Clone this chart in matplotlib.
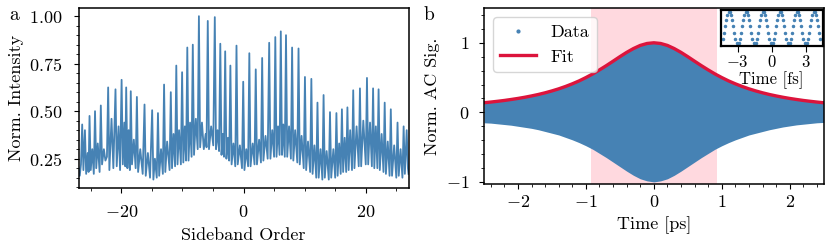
import numpy as np
import matplotlib
matplotlib.use("Agg")
import matplotlib.pyplot as plt
from matplotlib.lines import Line2D
from matplotlib.ticker import AutoMinorLocator, MultipleLocator

plt.rcParams["font.family"] = "serif"
plt.rcParams["font.serif"] = ["cmr10"]
plt.rcParams["mathtext.fontset"] = "cm"
plt.rcParams["axes.formatter.use_mathtext"] = True
plt.rcParams["font.size"] = 13

blue = "steelblue"
red = "crimson"

# panel a: sideband spectrum (tall sideband spikes + background between them)
peak_x = [-26.4, -25.95, -25.2, -24.3, -23.35, -22.15, -20.95, -19.95, -19.2, -18.45,
          -17.45, -16.2, -14.95, -14.0, -13.0, -11.9, -11.0, -10.05, -9.2, -8.3,
          -7.3, -5.85, -4.7, -3.8, -3.0, -2.15, -1.15, -0.05, 0.95, 2.0,
          3.05, 4.2, 5.2, 6.1, 6.95, 7.95, 9.0, 10.05, 11.1, 12.1,
          13.1, 14.15, 15.2, 16.1, 17.0, 17.95, 19.05, 20.2, 21.2, 22.1,
          23.1, 24.1, 25.2, 26.2, 26.7]
peak_y = [0.43, 0.40, 0.475, 0.50, 0.53, 0.625, 0.615, 0.665, 0.625, 0.605,
          0.575, 0.535, 0.505, 0.49, 0.64, 0.60, 0.74, 0.705, 0.835, 0.85,
          1.0, 0.975, 0.995, 0.855, 0.815, 0.74, 0.845, 0.655, 0.805, 0.72,
          0.78, 0.86, 0.89, 0.92, 0.90, 0.835, 0.83, 0.68, 0.67, 0.545,
          0.585, 0.495, 0.49, 0.51, 0.52, 0.61, 0.62, 0.675, 0.62, 0.615,
          0.545, 0.51, 0.44, 0.42, 0.40]

bg_x = [-27.0, -26.8, -26.6, -26.2,
        -25.75, -25.5, -25.35, -25.0, -24.75, -24.5,
        -24.1, -23.85, -23.55, -23.15, -22.85, -22.6, -22.35,
        -21.95, -21.6, -21.3, -20.75, -20.45, -20.2,
        -19.75, -19.5, -19.35, -19.0, -18.8, -18.6,
        -18.25, -17.95, -17.65, -17.25, -16.9, -16.5,
        -16.0, -15.65, -15.3, -14.75, -14.5, -14.2,
        -13.8, -13.5, -13.2, -12.8, -12.5, -12.1,
        -11.7, -11.45, -11.2, -10.8, -10.55, -10.25,
        -9.85, -9.6, -9.4, -9.0, -8.75, -8.5,
        -8.1, -7.8, -7.5, -7.1, -6.8, -6.5, -6.2, -6.05,
        -5.65, -5.3, -4.95, -4.5, -4.25, -4.0,
        -3.6, -3.4, -3.2, -2.8, -2.55, -2.35,
        -1.95, -1.65, -1.35, -0.95, -0.6, -0.25,
        0.15, 0.45, 0.75, 1.15, 1.5, 1.8,
        2.2, 2.55, 2.85, 3.25, 3.6, 3.95,
        4.4, 4.7, 5.0, 5.4, 5.65, 5.9,
        6.3, 6.5, 6.75, 7.15, 7.45, 7.75,
        8.15, 8.45, 8.8, 9.2, 9.5, 9.85,
        10.25, 10.55, 10.9, 11.3, 11.6, 11.9,
        12.3, 12.6, 12.9, 13.3, 13.6, 13.95,
        14.35, 14.7, 15.0, 15.4, 15.65, 15.9,
        16.3, 16.55, 16.8, 17.2, 17.45, 17.75,
        18.15, 18.5, 18.85, 19.25, 19.6, 20.0,
        20.4, 20.7, 21.0, 21.4, 21.65, 21.9,
        22.3, 22.6, 22.9, 23.3, 23.6, 23.9,
        24.3, 24.65, 25.0, 25.4, 25.7, 26.0,
        26.4, 26.9, 27.0]
bg_y = [0.20, 0.16, 0.22, 0.19,
        0.17, 0.28, 0.18, 0.19, 0.30, 0.17,
        0.20, 0.33, 0.18, 0.22, 0.30, 0.24, 0.26,
        0.19, 0.46, 0.20, 0.21, 0.42, 0.19,
        0.22, 0.44, 0.21, 0.20, 0.40, 0.19,
        0.22, 0.35, 0.20, 0.18, 0.30, 0.17,
        0.16, 0.28, 0.15, 0.14, 0.25, 0.15,
        0.16, 0.30, 0.17, 0.18, 0.34, 0.19,
        0.20, 0.38, 0.21, 0.22, 0.40, 0.22,
        0.23, 0.42, 0.24, 0.24, 0.44, 0.26,
        0.27, 0.46, 0.30, 0.31, 0.44, 0.30, 0.38, 0.31,
        0.30, 0.42, 0.32, 0.30, 0.40, 0.29,
        0.27, 0.38, 0.26, 0.25, 0.36, 0.24,
        0.22, 0.33, 0.21, 0.22, 0.32, 0.20,
        0.19, 0.30, 0.21, 0.21, 0.33, 0.22,
        0.22, 0.35, 0.23, 0.24, 0.37, 0.25,
        0.25, 0.40, 0.26, 0.26, 0.42, 0.27,
        0.27, 0.43, 0.26, 0.26, 0.42, 0.25,
        0.24, 0.40, 0.23, 0.22, 0.37, 0.20,
        0.19, 0.34, 0.18, 0.17, 0.32, 0.15,
        0.15, 0.30, 0.14, 0.15, 0.29, 0.14,
        0.15, 0.30, 0.15, 0.16, 0.33, 0.17,
        0.18, 0.36, 0.18, 0.19, 0.40, 0.19,
        0.20, 0.42, 0.21, 0.21, 0.45, 0.22,
        0.22, 0.44, 0.21, 0.20, 0.42, 0.20,
        0.19, 0.38, 0.18, 0.17, 0.34, 0.16,
        0.16, 0.32, 0.15, 0.16, 0.30, 0.15,
        0.17, 0.20, 0.17]

# panel b: autocorrelation envelope (fit and lower edge of data), ps
t_ps = np.round(np.arange(-2.5, 2.501, 0.1), 1)
fit_y = [0.138, 0.148, 0.159, 0.171, 0.185, 0.200, 0.217, 0.236, 0.257, 0.281,
         0.308, 0.338, 0.372, 0.410, 0.452, 0.500, 0.552, 0.610, 0.671, 0.735,
         0.800, 0.862, 0.917, 0.962, 0.990, 1.000, 0.990, 0.962, 0.917, 0.862,
         0.800, 0.735, 0.671, 0.610, 0.552, 0.500, 0.452, 0.410, 0.372, 0.338,
         0.308, 0.281, 0.257, 0.236, 0.217, 0.200, 0.185, 0.171, 0.159, 0.148, 0.138]
data_lo = [-0.150, -0.155, -0.165, -0.175, -0.185, -0.200, -0.215, -0.230, -0.250, -0.275,
           -0.300, -0.325, -0.360, -0.395, -0.435, -0.480, -0.530, -0.590, -0.650, -0.715,
           -0.780, -0.845, -0.905, -0.955, -0.985, -1.000, -0.985, -0.955, -0.905, -0.845,
           -0.780, -0.715, -0.650, -0.590, -0.530, -0.480, -0.435, -0.395, -0.360, -0.325,
           -0.300, -0.275, -0.250, -0.230, -0.210, -0.195, -0.180, -0.170, -0.160, -0.150, -0.145]
span_lo, span_hi = -0.93, 0.93

# inset: fringes near zero delay, fs
t_fs = np.round(np.arange(-4.3, 4.301, 0.1), 1)
fringe = [-0.67, -0.31, 0.10, 0.50, 0.81, 0.98, 0.98, 0.81, 0.50, 0.10, -0.31, -0.67, -0.91,
          -1.00, -0.91, -0.67, -0.31, 0.10, 0.50, 0.81, 0.98, 0.98, 0.81, 0.50, 0.10, -0.31, -0.67, -0.91,
          -1.00, -0.91, -0.67, -0.31, 0.10, 0.50, 0.81, 0.98, 0.98, 0.81, 0.50, 0.10, -0.31, -0.67, -0.91,
          -1.00, -0.91, -0.67, -0.31, 0.10, 0.50, 0.81, 0.98, 0.98, 0.81, 0.50, 0.10, -0.31, -0.67, -0.91,
          -1.00, -0.91, -0.67, -0.31, 0.10, 0.50, 0.81, 0.98, 0.98, 0.81, 0.50, 0.10, -0.31, -0.67, -0.91,
          -1.00, -0.91, -0.67, -0.31, 0.10, 0.50, 0.81, 0.98, 0.98, 0.81, 0.50, 0.10, -0.31, -0.67]

fig = plt.figure(figsize=(8.3, 2.5), dpi=100)

# ---- a
ax1 = fig.add_axes([0.0946, 0.249, 0.3976, 0.719])
sx = np.concatenate([peak_x, bg_x])
sy = np.concatenate([peak_y, bg_y])
order = np.argsort(sx)
ax1.plot(sx[order], sy[order], color=blue, lw=1.3)
ax1.set_xlim(-27, 27)
ax1.set_xticks([-20, 0, 20])
ax1.xaxis.set_minor_locator(MultipleLocator(5))
ax1.set_yticks([0.25, 0.5, 0.75, 1.0])
ax1.yaxis.set_minor_locator(AutoMinorLocator())
ax1.tick_params(axis="x", which="major", pad=8)
ax1.tick_params(axis="y", which="major", pad=8)
ax1.set_xlabel("Sideband Order", labelpad=6)
ax1.set_ylabel("Norm. Intensity")

# ---- b
ax2 = fig.add_axes([0.5831, 0.264, 0.4093, 0.704])
ax2.axvspan(span_lo, span_hi, color="pink", alpha=0.6, lw=0, zorder=0)
ax2.fill_between(t_ps, data_lo, fit_y, color=blue, lw=0, zorder=1)
ax2.plot(t_ps, fit_y, color=red, lw=2.4, zorder=2)
ax2.set_xlim(-2.5, 2.5)
ax2.set_ylim(-1.03, 1.5)
ax2.set_yticks([-1, 0, 1])
ax2.xaxis.set_minor_locator(AutoMinorLocator())
ax2.yaxis.set_minor_locator(AutoMinorLocator())
ax2.tick_params(axis="y", which="major", pad=7)
ax2.set_xlabel("Time [ps]", labelpad=5)
ax2.set_ylabel("Norm. AC Sig.")
handles = [Line2D([], [], marker=".", ls="none", color=blue, ms=4, label="Data"),
           Line2D([], [], color=red, lw=2.4, label="Fit")]
ax2.legend(handles=handles, loc="upper left", fontsize=13)

for ax in (ax1, ax2):
    for s in ax.spines.values():
        s.set_linewidth(1.1)

# inset
axi = fig.add_axes([0.8683, 0.816, 0.1229, 0.144])
axi.plot(t_fs, fringe, ".", color=blue, ms=3)
axi.set_xlim(-4.5, 4.5)
axi.set_ylim(-1.1, 1.1)
axi.set_yticks([])
axi.set_xticks([-3, 0, 3])
axi.tick_params(labelsize=12, length=4, pad=2)
axi.set_xlabel("Time [fs]", fontsize=12, labelpad=1)
for s in axi.spines.values():
    s.set_linewidth(1.6)

fig.text(13.7 / 830, 1 - 15 / 250, "a", ha="center", va="center", fontsize=14)
fig.text(428.7 / 830, 1 - 15 / 250, "b", ha="center", va="center", fontsize=14)

fig.savefig("out.png", dpi=100)
